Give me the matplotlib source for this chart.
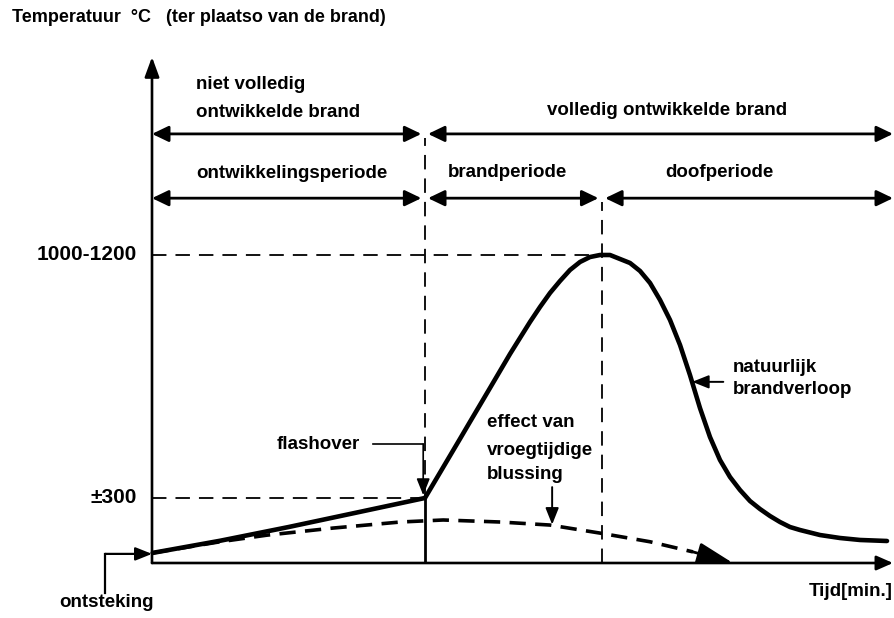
import matplotlib
matplotlib.use('Agg')
import matplotlib.pyplot as plt

plt.rcParams['font.family'] = ['Liberation Sans', 'DejaVu Sans']
plt.rcParams['font.weight'] = 'bold'

# ---- data (schematic units: time 0-100, temperature 0-100) ----
time_natural = [0.1, 9.2, 18.4, 27.4, 36.84, 37.52, 38.87, 40.22, 41.57, 42.91, 44.26, 45.61,
                46.96, 48.31, 49.66, 51.01, 52.36, 53.71, 55.06, 56.41, 57.76, 59.11, 60.46,
                61.81, 63.16, 64.51, 65.86, 67.21, 68.56, 69.91, 71.26, 72.6, 73.95, 75.3,
                76.65, 78.0, 79.35, 80.7, 82.05, 83.4, 84.75, 86.1, 87.45, 90.15, 92.85,
                95.55, 99.19]
temp_natural = [2.0, 4.4, 7.1, 9.9, 12.85, 14.53, 17.87, 21.21, 24.55, 27.89, 31.23, 34.58,
                37.94, 41.3, 44.47, 47.63, 50.59, 53.36, 55.73, 57.91, 59.49, 60.47, 60.87,
                60.87, 60.08, 59.29, 57.71, 55.34, 51.98, 48.02, 43.08, 37.15, 30.63, 24.9,
                20.36, 17.0, 14.43, 12.25, 10.67, 9.29, 8.1, 7.11, 6.52, 5.53, 4.94,
                4.55, 4.35]

time_blussing = [0.1, 9.2, 15.5, 24.4, 33.5, 39.3, 47.0, 53.7, 60.5, 67.2, 73.0]
temp_blussing = [2.0, 4.2, 5.5, 6.9, 8.1, 8.5, 8.1, 7.5, 5.9, 4.2, 2.2]
blussing_end = (78.4, 0.0)

flashover_time, flashover_temp = 36.8, 12.85
peak_time, peak_temp = 60.7, 60.87

ytick_values = [flashover_temp, peak_temp]
ytick_labels = ['\u00b1300', '1000-1200']

row1_level, row2_level = 84.8, 72.1

FS = 13.5
FS_NUM = 15
W = 895
H = 618
fig = plt.figure(figsize=(W / 100, H / 100), dpi=100)
ax = fig.add_axes([152 / W, (618 - 563) / H, (893 - 152) / W, (563 - 57) / H])
ax.set_xlim(0, 100)
ax.set_ylim(0, 100)
ax.axis('off')

# axes with arrows
ax.annotate('', xy=(0, 100), xytext=(0, 0), annotation_clip=False,
            arrowprops=dict(arrowstyle='-|>,head_length=0.6,head_width=0.22', mutation_scale=20,
                            lw=1.9, color='black', shrinkA=0, shrinkB=0))
ax.annotate('', xy=(100, 0), xytext=(0, 0), annotation_clip=False,
            arrowprops=dict(arrowstyle='-|>,head_length=0.5,head_width=0.22', mutation_scale=20,
                            lw=1.9, color='black', shrinkA=0, shrinkB=0))

# guide lines
dash_kw = dict(color='black', lw=1.3, dashes=(8, 5))
ax.plot([0, peak_time], [peak_temp, peak_temp], **dash_kw)
ax.plot([0, flashover_time], [flashover_temp, flashover_temp], **dash_kw)
ax.plot([flashover_time, flashover_time], [flashover_temp, row1_level - 0.8], **dash_kw)
ax.plot([peak_time, peak_time], [0, row2_level - 0.8], **dash_kw)
ax.plot([flashover_time, flashover_time], [0, flashover_temp], color='black', lw=2.0)


def darrow(x0, x1, y):
    ax.annotate('', xy=(x1, y), xytext=(x0, y), annotation_clip=False,
                arrowprops=dict(arrowstyle='<|-|>,head_length=0.5,head_width=0.24', mutation_scale=20,
                                lw=2.0, color='black', shrinkA=0, shrinkB=0))


gap = 0.45
darrow(0, flashover_time - gap, row1_level)
darrow(flashover_time + gap, 100, row1_level)
darrow(0, flashover_time - gap, row2_level)
darrow(flashover_time + gap, peak_time - gap, row2_level)
darrow(peak_time + gap, 100, row2_level)

# curves
ax.plot(time_natural, temp_natural, color='black', lw=3.3, solid_capstyle='round',
        solid_joinstyle='round', clip_on=False)
ax.plot(time_blussing, temp_blussing, color='black', lw=2.6, dashes=(4.5, 2.6), clip_on=False)
ax.annotate('', xy=blussing_end, xytext=(time_blussing[-1], temp_blussing[-1]),
            annotation_clip=False,
            arrowprops=dict(arrowstyle='-|>,head_length=1.0,head_width=0.3', mutation_scale=22,
                            lw=2.0, color='black', shrinkA=0, shrinkB=0))

# tick labels
for v, lab in zip(ytick_values, ytick_labels):
    ax.text(-2.1, v, lab, ha='right', va='center', fontsize=FS_NUM)

# title
fig.text(12 / W, 1 - 18 / H, 'Temperatuur  \u00b0C   (ter plaatso van de brand)',
         ha='left', va='center', fontsize=13)

# phase labels
ax.text(5.9, 94.5, 'niet volledig', ha='left', va='center', fontsize=FS)
ax.text(5.9, 89.1, 'ontwikkelde brand', ha='left', va='center', fontsize=FS)
ax.text(69.5, 89.5, 'volledig ontwikkelde brand', ha='center', va='center', fontsize=FS)
ax.text(18.9, 76.9, 'ontwikkelingsperiode', ha='center', va='center', fontsize=FS)
ax.text(48.0, 77.1, 'brandperiode', ha='center', va='center', fontsize=FS)
ax.text(76.6, 77.1, 'doofperiode', ha='center', va='center', fontsize=FS)

# annotations
ax.text(28.1, 23.5, 'flashover', ha='right', va='center', fontsize=FS)
ax.plot([29.8, 36.6], [23.5, 23.5], color='black', lw=1.2)
ax.annotate('', xy=(36.6, 13.4), xytext=(36.6, 23.5),
            arrowprops=dict(arrowstyle='-|>,head_length=0.5,head_width=0.2', mutation_scale=20,
                            lw=1.2, color='black', shrinkA=0, shrinkB=0))

ax.text(45.2, 27.7, 'effect van', ha='left', va='center', fontsize=FS)
ax.text(45.2, 22.3, 'vroegtijdige', ha='left', va='center', fontsize=FS)
ax.text(45.2, 17.4, 'blussing', ha='left', va='center', fontsize=FS)
ax.annotate('', xy=(54.0, 7.6), xytext=(54.0, 15.0),
            arrowprops=dict(arrowstyle='-|>,head_length=0.5,head_width=0.2', mutation_scale=20,
                            lw=1.4, color='black', shrinkA=0, shrinkB=0))

ax.text(78.4, 38.7, 'natuurlijk', ha='left', va='center', fontsize=FS)
ax.text(78.4, 34.2, 'brandverloop', ha='left', va='center', fontsize=FS)
ax.annotate('', xy=(72.9, 35.8), xytext=(77.1, 35.8),
            arrowprops=dict(arrowstyle='-|>,head_length=0.5,head_width=0.2', mutation_scale=20,
                            lw=1.4, color='black', shrinkA=0, shrinkB=0))

ax.text(-6.2, -7.9, 'ontsteking', ha='center', va='center', fontsize=FS)
ax.plot([-6.3, -6.3], [-5.9, 1.8], color='black', lw=1.6, clip_on=False)
ax.annotate('', xy=(0, 1.8), xytext=(-6.3, 1.8), annotation_clip=False,
            arrowprops=dict(arrowstyle='-|>,head_length=0.5,head_width=0.2', mutation_scale=20,
                            lw=1.6, color='black', shrinkA=0, shrinkB=0))

ax.text(99.9, -5.7, 'Tijd[min.]', ha='right', va='center', fontsize=FS)

fig.savefig('out.png', dpi=100, facecolor='white')
